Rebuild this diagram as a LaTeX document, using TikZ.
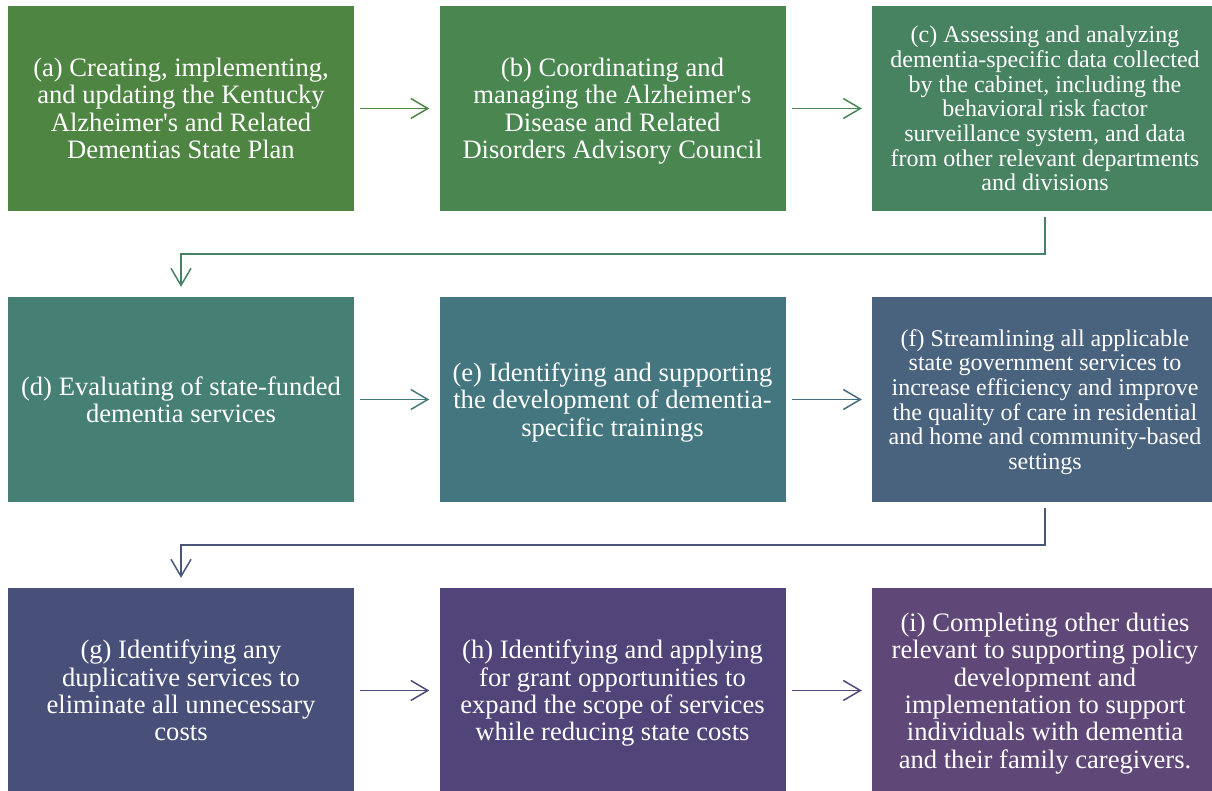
\documentclass[tikz,border=0pt]{standalone}
\usepackage{fontspec}
\setmainfont{Liberation Serif}
\newfontfamily\plainserif{Liberation Serif}
\usetikzlibrary{arrows.meta}
\definecolor{ca}{HTML}{4E8542}
\definecolor{cb}{HTML}{4A8650}
\definecolor{cc}{HTML}{478261}
\definecolor{cd}{HTML}{468074}
\definecolor{ce}{HTML}{447680}
\definecolor{cf}{HTML}{49627E}
\definecolor{cg}{HTML}{48507A}
\definecolor{ch}{HTML}{504479}
\definecolor{ci}{HTML}{5F4877}
\definecolor{aab}{HTML}{4E8545}
\definecolor{abc}{HTML}{488558}
\definecolor{acd}{HTML}{478166}
\definecolor{ade}{HTML}{457A78}
\definecolor{aef}{HTML}{466B80}
\definecolor{afg}{HTML}{49577C}
\definecolor{agh}{HTML}{4B497A}
\definecolor{ahi}{HTML}{574578}
\newcommand{\kapos}{{\plainserif\char39}}
\newcommand{\kmtop}{\rule{0pt}{24.4pt}}
\newcommand{\kmbot}{\rule[-6pt]{0pt}{6pt}}
\newcommand{\kstop}{\rule{0pt}{22.1pt}}
\newcommand{\ksbot}{\rule[-5.5pt]{0pt}{5.5pt}}
\tikzset{
  stepbox/.style={rectangle, minimum width=346pt, minimum height=205pt, inner sep=0pt,
    text=white, align=center, font=\fontsize{26.6}{27.4}\selectfont},
  smalltext/.style={font=\fontsize{24}{24.7}\selectfont},
  conn/.style={line width=1.5pt, -{Straight Barb[length=17pt,width=20pt]}, shorten <=6pt, shorten >=10pt}
}
\begin{document}
\begin{tikzpicture}[x=1pt,y=-1pt]
\useasboundingbox (0,0) rectangle (1212,791);
\clip (0,0) rectangle (1212,791);
\node[stepbox, fill=ca] (a) at (181,108.5) {\kmtop(a) Creating, implementing,\\and updating the Kentucky\\Alzheimer\kapos s and Related\\Dementias State Plan\kmbot};
\node[stepbox, fill=cb] (b) at (612.5,108.5) {\kmtop(b) Coordinating and\\managing the Alzheimer\kapos s\\Disease and Related\\Disorders Advisory Council\kmbot};
\node[stepbox, smalltext, fill=cc] (c) at (1045,108.5) {\kstop(c) Assessing and analyzing\\dementia-specific data collected\\by the cabinet, including the\\behavioral risk factor\\surveillance system, and data\\from other relevant departments\\and divisions\ksbot};
\node[stepbox, fill=cd] (d) at (181,399.5) {\kmtop(d) Evaluating of state-funded\\dementia services\kmbot};
\node[stepbox, fill=ce] (e) at (612.5,399.5) {\kmtop(e) Identifying and supporting\\the development of dementia-\\specific trainings\kmbot};
\node[stepbox, smalltext, fill=cf] (f) at (1045,399.5) {\kstop(f) Streamlining all applicable\\state government services to\\increase efficiency and improve\\the quality of care in residential\\and home and community-based\\settings\ksbot};
\node[stepbox, fill=cg] (g) at (181,690.5) {\kmtop(g) Identifying any\\duplicative services to\\eliminate all unnecessary\\costs\kmbot};
\node[stepbox, fill=ch] (h) at (612.5,690.5) {\kmtop(h) Identifying and applying\\for grant opportunities to\\expand the scope of services\\while reducing state costs\kmbot};
\node[stepbox, fill=ci] (i) at (1045,690.5) {\kmtop(i) Completing other duties\\relevant to supporting policy\\development and\\implementation to support\\individuals with dementia\\and their family caregivers.\kmbot};
\draw[conn, aab] (a) -- (b);
\draw[conn, abc] (b) -- (c);
\draw[conn, acd] (c.south) -- ++(0,43) -| (d.north);
\draw[conn, ade] (d) -- (e);
\draw[conn, aef] (e) -- (f);
\draw[conn, afg] (f.south) -- ++(0,43) -| (g.north);
\draw[conn, agh] (g) -- (h);
\draw[conn, ahi] (h) -- (i);
\end{tikzpicture}
\end{document}
